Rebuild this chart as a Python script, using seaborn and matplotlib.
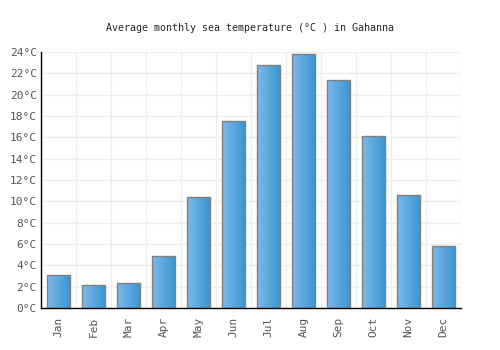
import numpy as np
import pandas as pd
import matplotlib
matplotlib.use('Agg')
import matplotlib.pyplot as plt
from matplotlib.colors import LinearSegmentedColormap
import seaborn as sns

months = ['Jan', 'Feb', 'Mar', 'Apr', 'May', 'Jun', 'Jul', 'Aug', 'Sep', 'Oct', 'Nov', 'Dec']
temps = [3.1, 2.15, 2.3, 4.9, 10.4, 17.5, 22.8, 23.8, 21.4, 16.1, 10.6, 5.8]
yticks = list(range(0, 25, 2))

df = pd.DataFrame({'month': months, 'temp': temps})

sns.set_style('white')
plt.rcParams['font.family'] = ['DejaVu Sans Mono']

fig = plt.figure(figsize=(5, 3.5), dpi=100)
ax = fig.add_axes([0.082, 0.12, 0.84, 0.731])

sns.barplot(data=df, x='month', y='temp', ax=ax, width=0.68,
            color='#4a9fd8', edgecolor='#808080', linewidth=1, zorder=2)

# gradient fill: light on left, darker on right
cmap = LinearSegmentedColormap.from_list('bar', ['#7cb9ea', '#3896d0'])
grad = np.linspace(0, 1, 64).reshape(1, -1)
for p in ax.patches:
    x0, y0 = p.get_x(), p.get_y()
    w, h = p.get_width(), p.get_height()
    im = ax.imshow(grad, cmap=cmap, aspect='auto', extent=[x0, x0 + w, y0, y0 + h],
                   zorder=2.5, interpolation='bicubic')
    im.set_clip_path(p)
    p.set_facecolor('none')
    p.set_zorder(3)

ax.set_xlim(-0.5, 11.5)
ax.set_ylim(0, 24)
ax.set_yticks(yticks)
ax.set_yticklabels([f'{t}°C' for t in yticks])
ax.set_xticks(np.arange(-0.5, 12, 1), minor=True)
ax.grid(True, which='minor', axis='x', color='#eeeeee', linewidth=1, zorder=0)
ax.grid(True, which='major', axis='y', color='#eeeeee', linewidth=1, zorder=0)
ax.set_axisbelow(True)

ax.tick_params(axis='x', which='both', length=0, labelrotation=90, labelsize=8, colors='#555555', pad=6)
ax.tick_params(axis='y', length=0, labelsize=8, colors='#555555', pad=3)
for lbl in ax.get_xticklabels() + ax.get_yticklabels():
    lbl.set_color('#555555')

for s in ['top', 'right']:
    ax.spines[s].set_visible(False)
for s in ['left', 'bottom']:
    ax.spines[s].set_color('#000000')
    ax.spines[s].set_linewidth(1)

ax.set_xlabel('')
ax.set_ylabel('')
fig.suptitle('Average monthly sea temperature (°C ) in Gahanna', y=0.935, fontsize=7.2)

fig.savefig('out.png', dpi=100)
